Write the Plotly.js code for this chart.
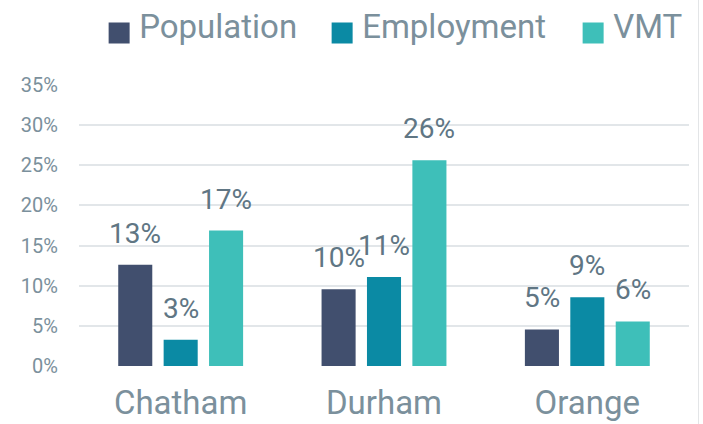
<!DOCTYPE html>
<html>
<head>
<meta charset="utf-8">
<script src="https://cdn.plot.ly/plotly-3.0.1.min.js"></script>
<style>
  html, body { margin: 0; padding: 0; background: #ffffff; }
  #chart { width: 698px; height: 424px; border-right: 1px solid #e3e5e7; }
</style>
</head>
<body>
<div id="chart"></div>
<script>
// ---- Data ----
var categories = ["Chatham", "Durham", "Orange"];
var seriesNames = ["Population", "Employment", "VMT"];
var population = [12.6, 9.55, 4.55];
var employment = [3.27, 11.08, 8.55];
var vmt = [16.87, 25.64, 5.55];
var seriesValues = [population, employment, vmt];
var seriesColors = ["#414f6e", "#0b8aa4", "#3ebfb9"];
var yTickVals = [0, 5, 10, 15, 20, 25, 30, 35];
var yTickText = yTickVals.map(function (v) { return v + "%"; });

// ---- Style ----
var FONT = "Roboto, 'Open Sans', sans-serif";
var axisTextColor = "#7b909c";
var labelColor = "#607684";
var BARGAP = 0.33;
var BARGROUPGAP = 0.25;
var legendWidths = [178, 206, 70];

var xIdx = categories.map(function (_, i) { return i; });

var traces = seriesNames.map(function (name, j) {
  return {
    type: "bar",
    name: name,
    x: xIdx,
    y: seriesValues[j],
    marker: { color: seriesColors[j] },
    legendwidth: legendWidths[j],
    hoverinfo: "skip"
  };
});

// value labels above the bars, positioned from the data through the axis scales
var nS = seriesNames.length;
var slot = (1 - BARGAP) / nS;
var annotations = [];
seriesValues.forEach(function (vals, j) {
  vals.forEach(function (v, i) {
    annotations.push({
      x: i + (j - (nS - 1) / 2) * slot,
      y: v,
      xref: "x", yref: "y",
      text: Math.round(v) + "%",
      showarrow: false,
      xanchor: "center",
      yanchor: "bottom",
      yshift: 13,
      font: { family: FONT, size: 28, color: labelColor }
    });
  });
});

var layout = {
  width: 698,
  height: 424,
  margin: { l: 79, r: 9, t: 85, b: 58, autoexpand: false },
  paper_bgcolor: "#ffffff",
  plot_bgcolor: "#ffffff",
  font: { family: FONT, color: axisTextColor },
  barmode: "group",
  bargap: BARGAP,
  bargroupgap: BARGROUPGAP,
  showlegend: true,
  legend: {
    orientation: "h",
    x: 0.033, xanchor: "left",
    y: 1.311, yanchor: "top",
    font: { family: FONT, size: 33, color: axisTextColor },
    itemclick: false,
    traceorder: "normal"
  },
  xaxis: {
    type: "linear",
    range: [-0.5, categories.length - 0.5],
    tickvals: xIdx,
    ticktext: categories,
    tickfont: { family: FONT, size: 33, color: axisTextColor },
    showgrid: false,
    zeroline: false,
    showline: false,
    ticks: "",
    ticklabelstandoff: 14
  },
  yaxis: {
    range: [0, 35],
    tickvals: yTickVals,
    ticktext: yTickText,
    tickfont: { family: FONT, size: 20, color: axisTextColor },
    showgrid: true,
    gridcolor: "#e2e6e9",
    gridwidth: 2,
    zeroline: false,
    showline: false,
    ticks: "",
    ticklabelstandoff: 20
  },
  annotations: annotations
};

Plotly.newPlot("chart", traces, layout, { displayModeBar: false, staticPlot: true }).then(function (gd) {
  // larger legend swatches, as in the reference
  gd.querySelectorAll(".legendpoints path").forEach(function (p) {
    p.setAttribute("d", "M10.5,18H-10.5V-3H10.5Z");
  });
});
</script>
</body>
</html>
